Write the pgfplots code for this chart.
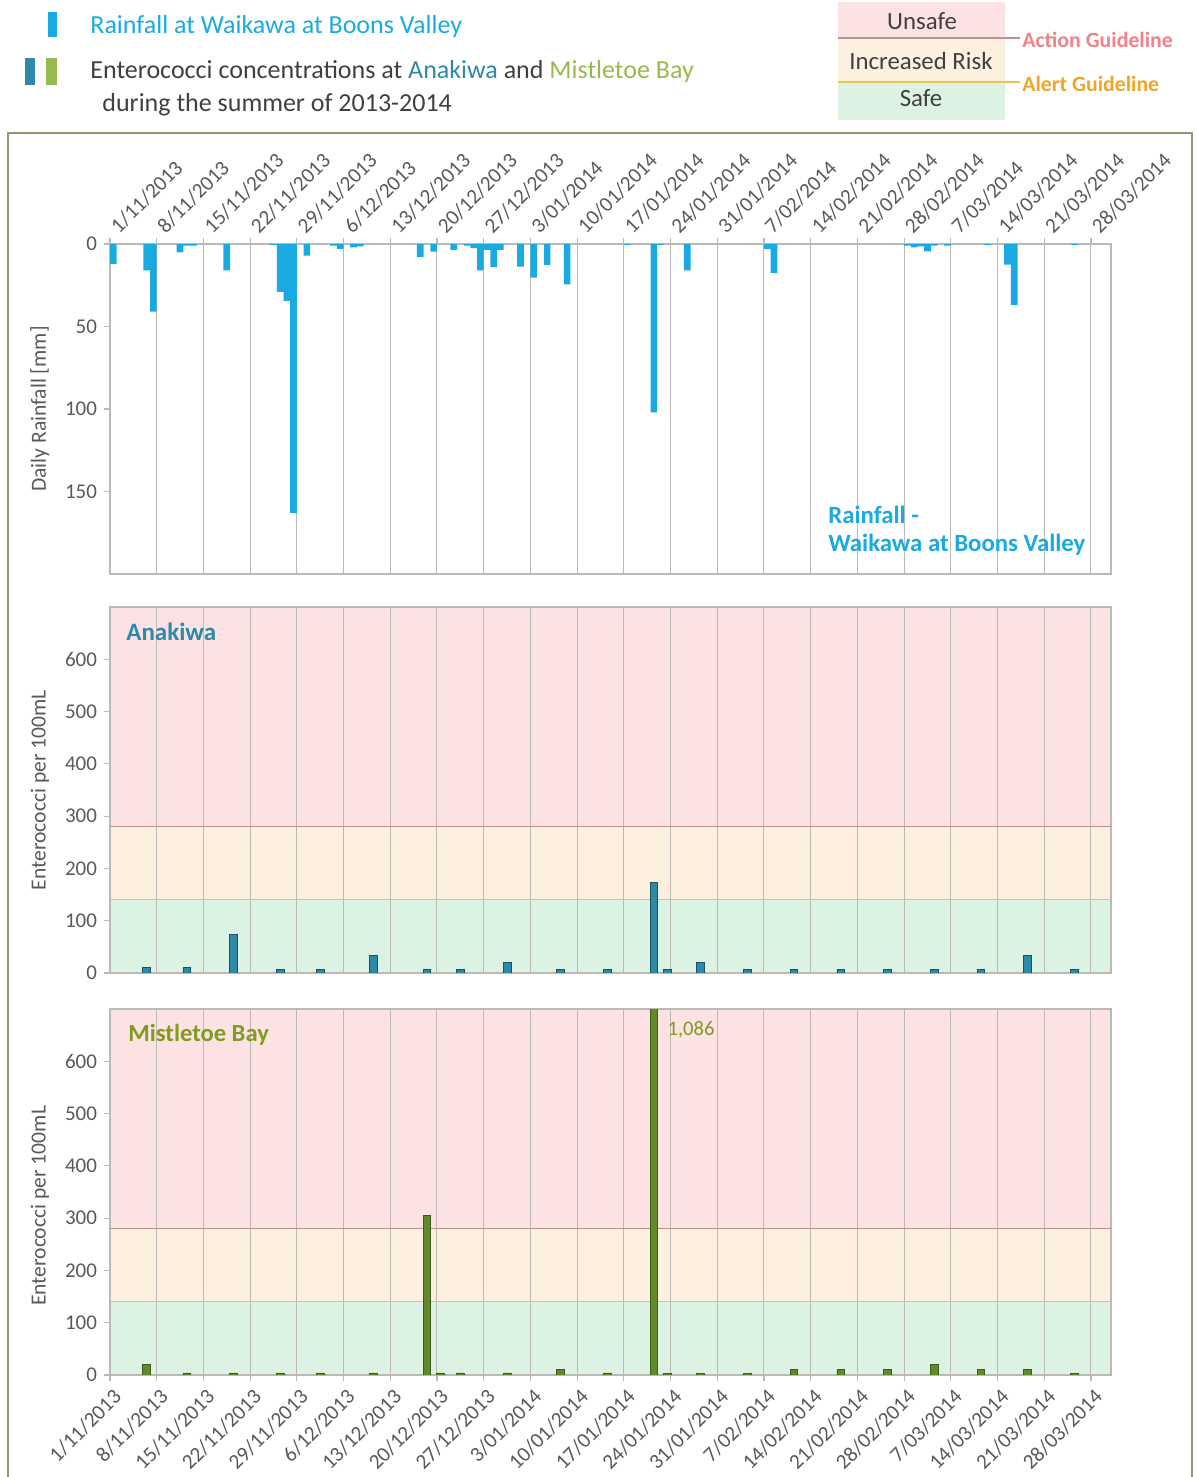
\documentclass[border=0pt]{standalone}
\usepackage{fontspec}
\setmainfont{Carlito}
\usepackage{pgfplots}
\usepackage{pgfplotstable}
\pgfplotsset{compat=1.18}

\definecolor{rainblue}{RGB}{26,170,226}
\definecolor{anateal}{RGB}{44,137,168}
\definecolor{anaedge}{RGB}{30,82,98}
\definecolor{mistgreen}{RGB}{98,138,42}
\definecolor{mistedge}{RGB}{62,92,26}
\definecolor{misttext}{RGB}{128,155,30}
\definecolor{mistlight}{RGB}{150,185,80}
\definecolor{txtgrey}{RGB}{89,89,89}
\definecolor{darktxt}{RGB}{64,64,64}
\definecolor{gridgrey}{RGB}{188,184,180}
\definecolor{unsafe}{RGB}{253,226,228}
\definecolor{risk}{RGB}{254,240,222}
\definecolor{safe}{RGB}{220,243,228}
\definecolor{actionline}{RGB}{190,145,145}
\definecolor{alertline}{RGB}{232,196,80}
\definecolor{actiontext}{RGB}{240,130,140}
\definecolor{alerttext}{RGB}{240,165,40}
\definecolor{framecol}{RGB}{150,148,115}

% daily rainfall, days counted from 1 Nov 2013
\pgfplotstableread{
day mm
0 12
5 16
6 41
10 5
11 1
12 1
17 16
24 0.5
25 29
26 34.5
27 163
29 7
33 1
34 3
36 2
37 1.5
46 8
48 4.6
51 3.6
53 1
54 2.5
55 16
56 3.5
57 14
58 3.5
61 13.7
63 20.4
65 12.7
68 24.4
77 0.5
81 102
82 0.5
86 16
98 3
99 17.5
119 1
120 2
121 1.5
122 4.5
123 1
125 1
131 0.5
134 12.5
135 37
144 0.5
}\rainfall

% enterococci per 100 mL, Anakiwa
\pgfplotstableread{
day ent
5 10
11 10
18 73
25 6
31 6
39 33
47 6
52 6
59 20
67 6
74 6
81 174
83 6
88 20
95 6
102 6
109 6
116 6
123 6
130 6
137 33
144 6
}\anakiwa

% enterococci per 100 mL, Mistletoe Bay
\pgfplotstableread{
day ent
5 20
11 4
18 4
25 4
31 4
39 4
47 306
49 4
52 4
59 4
67 10
74 4
81 1086
83 3
88 3
95 3
102 10
109 10
116 10
123 20
130 10
137 10
144 3
}\mistletoe

\newcommand{\datelabels}{1/11/2013,8/11/2013,15/11/2013,22/11/2013,29/11/2013,6/12/2013,13/12/2013,20/12/2013,27/12/2013,3/01/2014,10/01/2014,17/01/2014,24/01/2014,31/01/2014,7/02/2014,14/02/2014,21/02/2014,28/02/2014,7/03/2014,14/03/2014,21/03/2014,28/03/2014}

\pgfplotsset{
  panel/.style={
    scale only axis, width=500.5pt, anchor=north west,
    xmin=0, xmax=150, xtick={0,7,...,147},
    xmajorgrids, grid style={gridgrey, line width=0.5pt},
    axis line style={gridgrey, line width=0.6pt},
    tick style={gridgrey, line width=0.6pt},
    tick align=outside, major tick length=3pt, ytick pos=left,
    yticklabel style={font=\fontsize{10.5}{12}\selectfont, text=txtgrey},
    xticklabel style={font=\fontsize{10.6}{12}\selectfont, text=txtgrey},
    /pgf/number format/assume math mode=true,
    every axis y label/.style={at={(axis description cs:-0.07,0.5)},
      rotate=90, anchor=center, font=\fontsize{10.8}{12}\selectfont, text=txtgrey},
    set layers,
  },
  bacteria/.style={
    panel, height=183pt, ymin=0, ymax=700, ytick={0,100,...,600},
    ylabel={Enterococci per 100mL}, ybar, bar width=1.15, bar shift=0pt,
  },
}

\newcommand{\bands}{%
  \begin{pgfonlayer}{axis background}
    \fill[unsafe] (axis cs:0,280) rectangle (axis cs:150,700);
    \fill[risk] (axis cs:0,140) rectangle (axis cs:150,280);
    \fill[safe] (axis cs:0,0) rectangle (axis cs:150,140);
  \end{pgfonlayer}
  \draw[actionline, line width=0.7pt] (axis cs:0,280) -- (axis cs:150,280);
  \draw[alertline, line width=0.7pt] (axis cs:0,140) -- (axis cs:150,140);
}

\begin{document}
\begin{tikzpicture}

% frame around the three panels
\draw[framecol, line width=1pt] (4pt,-745pt) -- (4pt,-66.5pt) -- (596pt,-66.5pt) -- (596pt,-745pt);

% key at top left
\fill[rainblue] (24pt,-6pt) rectangle (28.5pt,-18.5pt);
\node[anchor=west, inner sep=0pt, text=rainblue, font=\fontsize{13}{15}\selectfont] at (45pt,-13.5pt) {Rainfall at Waikawa at Boons Valley};
\fill[anateal] (12.5pt,-29pt) rectangle (17.5pt,-42.5pt);
\fill[mistlight] (23pt,-29pt) rectangle (28.5pt,-42.5pt);
\node[anchor=west, inner sep=0pt, text=darktxt, font=\fontsize{13}{15}\selectfont] at (45pt,-36pt) {Enterococci concentrations at \textcolor{anateal}{Anakiwa} and \textcolor{mistlight}{Mistletoe Bay}};
\node[anchor=west, inner sep=0pt, text=darktxt, font=\fontsize{13}{15}\selectfont] at (51pt,-52.5pt) {during the summer of 2013-2014};

% guideline key at top right
\fill[unsafe] (419pt,-1pt) rectangle (502.5pt,-19pt);
\fill[risk] (419pt,-19pt) rectangle (502.5pt,-41pt);
\fill[safe] (419pt,-41pt) rectangle (502.5pt,-60pt);
\draw[actionline, line width=0.6pt] (419pt,-19pt) -- (510pt,-19pt);
\draw[alertline, line width=0.6pt] (419pt,-41pt) -- (510pt,-41pt);
\node[text=darktxt, font=\fontsize{12.4}{14}\selectfont] at (461pt,-10.5pt) {Unsafe};
\node[text=darktxt, font=\fontsize{12.4}{14}\selectfont] at (460.5pt,-30.5pt) {Increased Risk};
\node[text=darktxt, font=\fontsize{12.4}{14}\selectfont] at (460.5pt,-49pt) {Safe};
\node[anchor=west, inner sep=0pt, text=actiontext, font=\bfseries\fontsize{10.9}{12}\selectfont] at (511pt,-20pt) {Action Guideline};
\node[anchor=west, inner sep=0pt, text=alerttext, font=\bfseries\fontsize{10.9}{12}\selectfont] at (511pt,-42pt) {Alert Guideline};

% rainfall
\begin{axis}[panel, at={(55pt,-122pt)}, height=165pt,
  ymin=0, ymax=200, y dir=reverse, ytick={0,50,100,150},
  ylabel={Daily Rainfall [mm]},
  xtick pos=right, xticklabel pos=right, xticklabels/.expand once=\datelabels,
  xticklabel style={xshift=4.4pt, yshift=1.7pt, rotate=45, anchor=base west, inner sep=0pt},
  ybar, bar width=1, bar shift=0pt]
\addplot[fill=rainblue, draw=none] table[x expr=\thisrow{day}+0.5, y=mm] {\rainfall};
\end{axis}
\node[anchor=west, inner sep=0pt, text=rainblue, font=\bfseries\fontsize{12.4}{14}\selectfont] at (414pt,-257.5pt) {Rainfall -};
\node[anchor=west, inner sep=0pt, text=rainblue, font=\bfseries\fontsize{12.4}{14}\selectfont] at (414pt,-272.5pt) {Waikawa at Boons Valley};

% Anakiwa
\begin{axis}[bacteria, at={(55pt,-303.5pt)}, xticklabels={}, xtick pos=left,
  major x tick style={draw=none}]
\bands
\addplot[fill=anateal, draw=anaedge, line width=0.4pt] table[x expr=\thisrow{day}+0.5, y=ent] {\anakiwa};
\end{axis}
\node[anchor=west, inner sep=0pt, text=anateal, font=\bfseries\fontsize{12.5}{14}\selectfont] at (63pt,-316pt) {Anakiwa};

% Mistletoe Bay
\begin{axis}[bacteria, at={(55pt,-504.5pt)}, xtick pos=left,
  xticklabels/.expand once=\datelabels,
  xticklabel style={xshift=1pt, yshift=1.5pt, rotate=45, anchor=north east},
  every axis y label/.append style={at={(axis description cs:-0.07,0.462)}}]
\bands
\addplot[fill=mistgreen, draw=mistedge, line width=0.4pt] table[x expr=\thisrow{day}+0.5, y=ent] {\mistletoe};
\node[anchor=west, text=misttext, font=\fontsize{10.3}{12}\selectfont] at (axis cs:82.5,660) {1,086};
\end{axis}
\node[anchor=west, inner sep=0pt, text=misttext, font=\bfseries\fontsize{12.3}{14}\selectfont] at (64pt,-517.5pt) {Mistletoe Bay};

% page extent
\pgfresetboundingbox
\path[use as bounding box] (0,0) rectangle (598.5pt,-738.5pt);
\end{tikzpicture}
\end{document}
